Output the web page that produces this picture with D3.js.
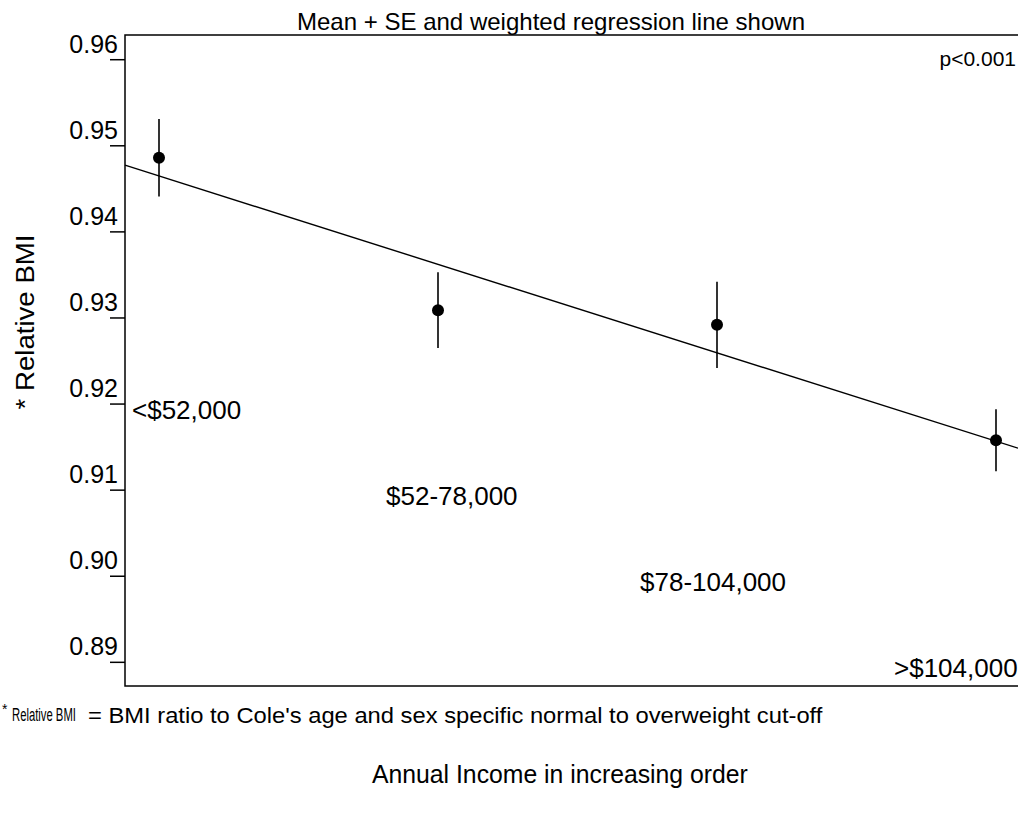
<!DOCTYPE html>
<html>
<head>
<meta charset="utf-8">
<script src="https://cdn.jsdelivr.net/npm/d3@7"></script>
<style>
  body { margin: 0; background: #fff; }
  svg { display: block; font-family: "Liberation Sans", Arial, sans-serif; }
</style>
</head>
<body>
<div id="chart"></div>
<script>
// values
const categories = ["<$52,000", "$52-78,000", "$78-104,000", ">$104,000"];
const means = [0.9486, 0.9309, 0.9292, 0.9158];
const se = [0.0045, 0.0044, 0.0050, 0.0036];
const regIntercept = 0.9465;   // fitted value at first category
const regSlope = -0.01027;     // change per category step
const yTicks = [0.89, 0.90, 0.91, 0.92, 0.93, 0.94, 0.95, 0.96];

const width = 1018, height = 814;
const plot = { left: 125, right: 1020, top: 35, bottom: 686 };

const svg = d3.select("#chart")
    .append("svg")
    .attr("width", width)
    .attr("height", height);

// index scale for the four income groups
const x = d3.scaleLinear()
    .domain([0, categories.length - 1])
    .range([159, 996]);

const y = d3.scaleLinear()
    .domain([0.88725, 0.96287])
    .range([plot.bottom, plot.top]);

// squeeze a text horizontally so it fits a given width (narrow font look)
function narrowText(sel, x0, y0, w) {
    const natural = sel.node().getComputedTextLength();
    sel.attr("transform", `translate(${x0},${y0}) scale(${w / natural},1)`);
}

// frame (right edge runs off the page)
svg.append("rect")
    .attr("x", plot.left)
    .attr("y", plot.top)
    .attr("width", plot.right - plot.left)
    .attr("height", plot.bottom - plot.top)
    .attr("fill", "none")
    .attr("stroke", "#000")
    .attr("stroke-width", 1.5);

// y axis ticks, labels sit above the tick line
const yAxis = svg.append("g").attr("class", "y-axis");
yAxis.selectAll("line")
    .data(yTicks)
    .join("line")
    .attr("x1", plot.left - 15)
    .attr("x2", plot.left)
    .attr("y1", d => y(d))
    .attr("y2", d => y(d))
    .attr("stroke", "#000")
    .attr("stroke-width", 1.5);
yAxis.selectAll("text")
    .data(yTicks)
    .join("text")
    .attr("x", plot.left - 7)
    .attr("y", d => y(d) - 7)
    .attr("text-anchor", "end")
    .attr("font-size", 25)
    .text(d3.format(".2f"));

// title and p value
svg.append("text")
    .attr("x", 551)
    .attr("y", 30)
    .attr("text-anchor", "middle")
    .attr("font-size", 24)
    .attr("textLength", 508)
    .attr("lengthAdjust", "spacingAndGlyphs")
    .text("Mean + SE and weighted regression line shown");

svg.append("text")
    .attr("x", 1016)
    .attr("y", 66)
    .attr("text-anchor", "end")
    .attr("font-size", 21)
    .text("p<0.001");

// y label
svg.append("text")
    .attr("transform", "translate(34,322) rotate(-90)")
    .attr("text-anchor", "middle")
    .attr("font-size", 26)
    .attr("textLength", 175)
    .attr("lengthAdjust", "spacingAndGlyphs")
    .text("* Relative BMI");

// regression line across the plot
const xLo = x.invert(plot.left), xHi = x.invert(width);
const line = d3.line()
    .x(d => x(d))
    .y(d => y(regIntercept + regSlope * d));
svg.append("path")
    .datum([xLo, xHi])
    .attr("d", line)
    .attr("fill", "none")
    .attr("stroke", "#000")
    .attr("stroke-width", 1.4);

// mean +/- SE
const pts = svg.append("g");
pts.selectAll("line")
    .data(means)
    .join("line")
    .attr("x1", (d, i) => x(i))
    .attr("x2", (d, i) => x(i))
    .attr("y1", (d, i) => y(d + se[i]))
    .attr("y2", (d, i) => y(d - se[i]))
    .attr("stroke", "#000")
    .attr("stroke-width", 1.6);
pts.selectAll("circle")
    .data(means)
    .join("circle")
    .attr("cx", (d, i) => x(i))
    .attr("cy", d => y(d))
    .attr("r", 6)
    .attr("fill", "#000");

// income group labels, stepped down one tick each
svg.append("g").selectAll("text")
    .data(categories)
    .join("text")
    .attr("x", (d, i) => 132 + i * 254)
    .attr("y", (d, i) => y(0.92 - 0.01 * i) + 15)
    .attr("font-size", 26)
    .text(d => d);

// footnote and x title
svg.append("text")
    .attr("x", 2)
    .attr("y", 714)
    .attr("font-size", 14)
    .text("*");
narrowText(svg.append("text")
    .attr("font-size", 19)
    .text("Relative BMI"), 12, 721, 64);
narrowText(svg.append("text")
    .attr("font-size", 22)
    .text("= BMI ratio to Cole's age and sex specific normal to overweight cut-off"), 88, 723, 735);

narrowText(svg.append("text")
    .attr("font-size", 25)
    .text("Annual Income in increasing order"), 372, 783, 376);
</script>
</body>
</html>
